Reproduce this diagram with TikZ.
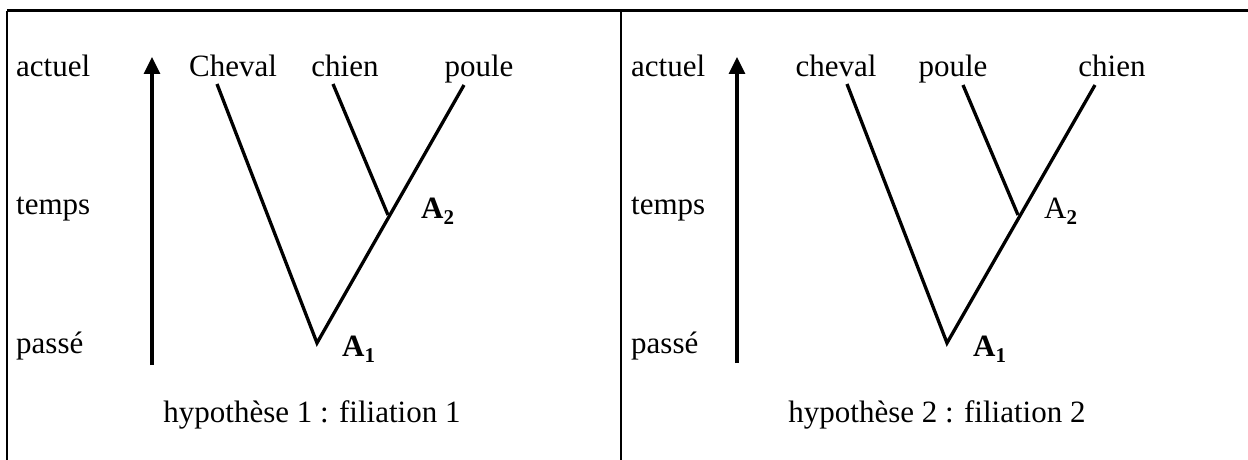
\documentclass[tikz,border=0pt]{standalone}
\usepackage{fontspec}
\setmainfont{Liberation Serif}
\usetikzlibrary{arrows.meta}
\newcommand{\subtwo}{\raisebox{-0.22em}{\fontsize{21}{21}\selectfont\bfseries 2}}
\newcommand{\subone}{\raisebox{-0.22em}{\fontsize{21}{21}\selectfont\bfseries 1}}
\begin{document}
\begin{tikzpicture}[x=1pt,y=-1pt,
  lbl/.style={inner sep=0pt, font=\fontsize{31}{36}\selectfont},
  branch/.style={line width=3.3pt, line join=miter, miter limit=20},
  timearrow/.style={line width=3.3pt, -{Triangle[width=16pt,length=17pt]}},
  frameline/.style={line width=2pt},
  topline/.style={line width=3pt}]
\useasboundingbox (0,0) rectangle (1248,460);
% frame
\coordinate (fl) at (7,460);
\coordinate (ftl) at (7,11);
\coordinate (ftr) at (1248,11);
\coordinate (fm) at (621,11);
\coordinate (fmb) at (621,460);
\draw[frameline] (fl) -- (ftl);
\draw[frameline] (fm) -- (fmb);
\draw[topline] (ftl) -- (ftr);

% ---------- left panel ----------
\node[lbl, anchor=base west] (act1) at (16,77) {actuel};
\node[lbl, anchor=base west] (tmp1) at (16,214) {temps};
\node[lbl, anchor=base west] (pas1) at (16,353) {passé};
\coordinate (ar1b) at (152,365);
\coordinate (ar1t) at (152,57);
\draw[timearrow] (ar1b) -- (ar1t);

\node[lbl, anchor=base] (cheval1) at (233,77) {Cheval};
\node[lbl, anchor=base] (chien1) at (345,77) {chien};
\node[lbl, anchor=base] (poule1) at (479,77) {poule};

\coordinate (c1top) at (217,84);
\coordinate (ch1top) at (333,84);
\coordinate (p1top) at (464,85);
\coordinate (a1L) at (317,343);
\coordinate (a2L) at (388,215);
\draw[branch] (c1top) -- (a1L) -- (p1top);
\draw[branch] (ch1top) -- (a2L);

\node[lbl, anchor=base west] (lA1L) at (342,356) {\bfseries A\subone};
\node[lbl, anchor=base west] (lA2L) at (421,218) {\bfseries A\subtwo};

\node[lbl, anchor=base] (cap1) at (312,422) {hypothèse 1 : filiation 1};

% ---------- right panel ----------
\node[lbl, anchor=base west] (act2) at (631,77) {actuel};
\node[lbl, anchor=base west] (tmp2) at (631,214) {temps};
\node[lbl, anchor=base west] (pas2) at (631,353) {passé};
\coordinate (ar2b) at (737,363);
\coordinate (ar2t) at (737,57);
\draw[timearrow] (ar2b) -- (ar2t);

\node[lbl, anchor=base] (cheval2) at (836,77) {cheval};
\node[lbl, anchor=base] (poule2) at (953,77) {poule};
\node[lbl, anchor=base] (chien2) at (1112,77) {chien};

\coordinate (c2top) at (847,84);
\coordinate (p2top) at (963,85);
\coordinate (ch2top) at (1095,85);
\coordinate (a1R) at (947,343);
\coordinate (a2R) at (1018,215);
\draw[branch] (c2top) -- (a1R) -- (ch2top);
\draw[branch] (p2top) -- (a2R);

\node[lbl, anchor=base west] (lA1R) at (973,356) {\bfseries A\subone};
\node[lbl, anchor=base west] (lA2R) at (1044,218) {A\subtwo};

\node[lbl, anchor=base] (cap2) at (937,422) {hypothèse 2 : filiation 2};
\end{tikzpicture}
\end{document}
